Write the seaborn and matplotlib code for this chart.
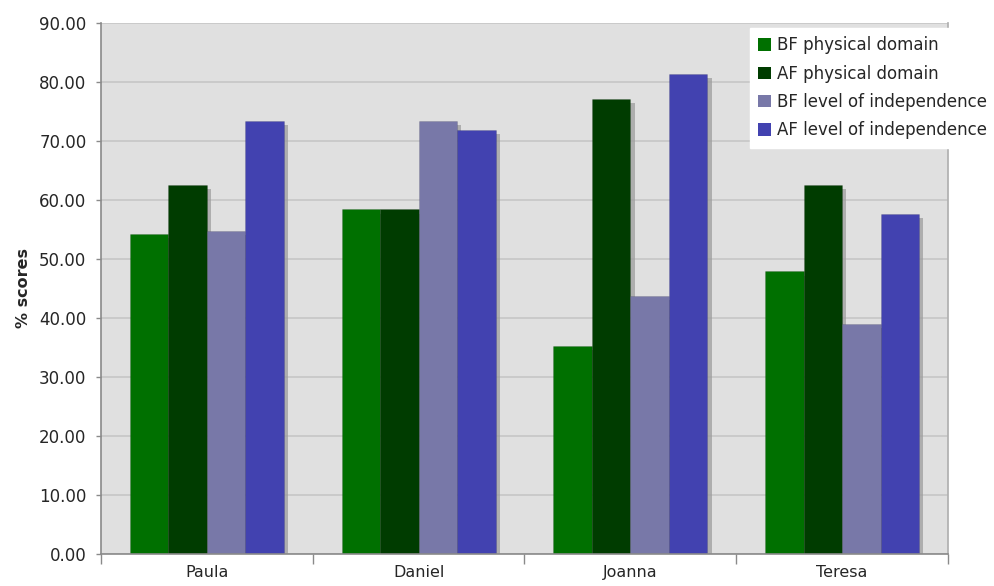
import matplotlib
matplotlib.use("Agg")
import matplotlib.pyplot as plt
import matplotlib.patheffects as pe
from matplotlib.ticker import FixedLocator, FormatStrFormatter
import seaborn as sns
import pandas as pd

# Participants and their scores (%)
participants = ["Paula", "Daniel", "Joanna", "Teresa"]
series = ["BF physical domain", "AF physical domain",
          "BF level of independence", "AF level of independence"]
bf_physical = [54.2, 58.4, 35.3, 47.9]
af_physical = [62.5, 58.4, 77.1, 62.5]
bf_independence = [54.7, 73.4, 43.7, 39.0]
af_independence = [73.4, 71.9, 81.3, 57.7]
y_ticks = [0, 10, 20, 30, 40, 50, 60, 70, 80, 90]

colors = ["#007000", "#003c00", "#7878a8", "#4242b0"]

rows = []
for name, vals in zip(series, [bf_physical, af_physical, bf_independence, af_independence]):
    for p, v in zip(participants, vals):
        rows.append({"participant": p, "series": name, "score": v})
df = pd.DataFrame(rows)

sns.set_theme(style="white")
plt.rcParams["font.family"] = ["DejaVu Sans"]

fig = plt.figure(figsize=(9.95, 5.86), dpi=100)
ax = fig.add_axes([101 / 995, 1 - 554 / 586, (948 - 101) / 995, (554 - 23) / 586])
ax.set_facecolor("#e0e0e0")

sns.barplot(data=df, x="participant", y="score", hue="series",
            order=participants, hue_order=series, palette=colors,
            width=0.727, gap=0, saturation=1, errorbar=None, ax=ax,
            linewidth=0.6, edgecolor="#606060", legend=True)

shadow = [pe.SimplePatchShadow(offset=(3, -3), shadow_rgbFace="#9a9a9a", alpha=0.7),
          pe.Normal()]
for bar in ax.patches:
    bar.set_path_effects(shadow)
    bar.set_edgecolor((0, 0, 0, 0.12))

ax.set_ylim(0, 90)
ax.set_xlim(-0.5, 3.5)
ax.yaxis.set_major_locator(FixedLocator(y_ticks))
ax.yaxis.set_major_formatter(FormatStrFormatter("%.2f"))
ax.yaxis.grid(True, color="#c6c6c6", linewidth=1.2)
ax.set_axisbelow(True)

ax.tick_params(axis="y", which="major", length=3.5, width=1, color="#8a8a8a",
               labelsize=12, pad=7, left=True)
ax.tick_params(axis="x", which="major", length=0, labelsize=11.5, pad=8)
ax.set_xticks([-0.5, 0.5, 1.5, 2.5, 3.5], minor=True)
ax.tick_params(axis="x", which="minor", length=7, width=1, color="#8a8a8a", bottom=True)

ax.set_xlabel("")
ax.set_ylabel("% scores", fontsize=11.5, fontweight="bold", labelpad=6)

for side in ["left", "bottom"]:
    ax.spines[side].set_color("#8a8a8a")
    ax.spines[side].set_linewidth(1.2)
ax.spines["top"].set_visible(False)
ax.spines["right"].set_color("#b0b0b0")

handles, labels = ax.get_legend_handles_labels()
ax.legend_.remove()
leg = fig.legend(handles, labels, loc="upper right",
                 bbox_to_anchor=(1.0, 1 - 28 / 586), bbox_transform=fig.transFigure,
                 borderaxespad=0, frameon=True, fancybox=False,
                 facecolor="white", edgecolor="white", framealpha=1,
                 fontsize=12, handlelength=0.75, handleheight=0.75,
                 handletextpad=0.35, labelspacing=0.62, borderpad=0.5)
for h in leg.legend_handles:
    h.set_path_effects([])
    h.set_edgecolor("none")

fig.savefig("out.png", dpi=100)
